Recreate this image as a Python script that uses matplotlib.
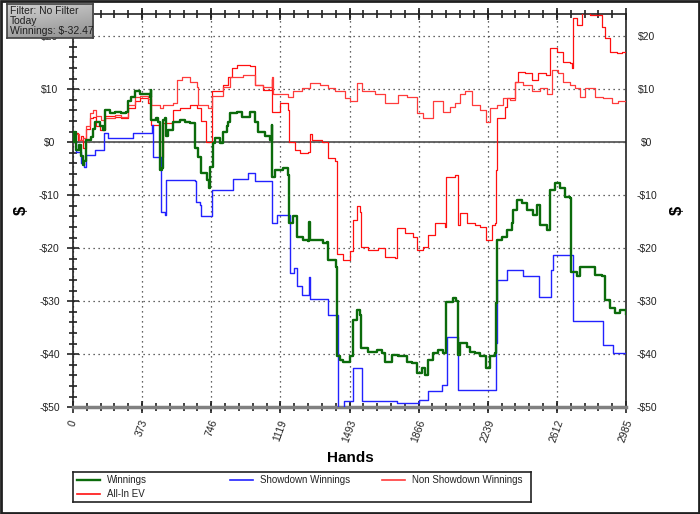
import numpy as np
import matplotlib
matplotlib.use('Agg')
import matplotlib.pyplot as plt
from matplotlib.ticker import MultipleLocator
from matplotlib.lines import Line2D
from matplotlib.patches import Rectangle
from matplotlib.colors import LinearSegmentedColormap

plt.rcParams['font.family'] = ['Liberation Sans', 'DejaVu Sans']

# ---- data (hand number, dollars) ----
win_hands = [0, 5, 18, 30, 45, 54, 62, 72, 99, 108, 117, 144, 162, 171, 198, 225, 261, 288, 297, 315,
             333, 360, 396, 414, 419, 423, 450, 460, 468, 482, 486, 495, 504, 513, 540, 576, 603, 630,
             657, 675, 693, 722, 736, 740, 754, 766, 794, 808, 830, 839, 848, 884, 911, 956, 983, 1001,
             1037, 1064, 1073, 1076, 1090, 1135, 1162, 1167, 1189, 1207, 1243, 1270, 1274, 1279, 1351,
             1369, 1378, 1420, 1423, 1441, 1459, 1495, 1513, 1531, 1549, 1555, 1595, 1640, 1666, 1684,
             1720, 1756, 1801, 1828, 1855, 1882, 1900, 1918, 1945, 1972, 1999, 2013, 2053, 2070, 2076,
             2089, 2125, 2143, 2170, 2197, 2229, 2251, 2278, 2283, 2287, 2314, 2341, 2368, 2377, 2395,
             2422, 2449, 2485, 2505, 2521, 2561, 2575, 2602, 2629, 2656, 2683, 2688, 2719, 2737, 2791,
             2818, 2854, 2872, 2899, 2926, 2953, 2985]
win_vals = [0, 2, -1.4, -0.5, -2.5, -4.3, -3.5, 0.4, 1, 2.5, 3.9, 3, 2.3, 6.1, 5.5, 5.8, 5.5, 5.8, 7.7, 8.6,
            9.6, 9.2, 9.2, 8.6, 9.8, 4.2, 4.5, 3.9, -5.2, -4.9, 4.2, 4.5, 1.1, 2.3, 3.9, 4.2, 3.9, 3.6,
            -1.1, -2.7, -5.8, -7.1, -8.7, -4.6, -0.2, 0.75, -0.2, 2, 3, 3.9, 5.5, 5.8, 4.8, 5.8, 3.9, 2,
            1.1, 0.4, 3.3, -6.5, -5.2, -4.9, -6.2, -15.3, -14, -17.8, -18.4, -18.7, -15, -18.4, -19,
            -18.8, -22.2, -23.5, -40.4, -41.1, -41.4, -40.4, -33.5, -31.6, -32.6, -38.9, -39.5, -39.2,
            -39.8, -41.4, -40.1, -40.4, -41.4, -41.7, -43.6, -42.6, -43.9, -41.1, -39.8, -39.2, -39.8,
            -30.1, -29.4, -30, -40.1, -37.9, -38.6, -39.5, -39.8, -40.4, -42.6, -40.4, -39.8, -30.4,
            -18.4, -17.8, -16.5, -15.3, -12.8, -10.9, -11.5, -12.8, -13.7, -11.8, -15.6, -16.5, -9,
            -7.7, -8.7, -10.3, -10.6, -24.4, -25.3, -23.5, -23.5, -25, -25.3, -29.7, -31.3, -32.3,
            -31.7, -32.47]

sd_hands = [0, 18, 45, 59, 72, 117, 167, 189, 324, 426, 432, 473, 495, 504, 657, 666, 684, 693, 749, 866,
            947, 983, 1076, 1103, 1171, 1194, 1207, 1234, 1274, 1279, 1378, 1430, 1464, 1510, 1558,
            1747, 1870, 1915, 1990, 2017, 2080, 2285, 2290, 2345, 2431, 2516, 2580, 2593, 2697, 2863,
            2917, 2985]
sd_vals = [0, -1.8, -4, -4.6, -2.4, -1.4, 1.7, 0.9, 1.7, 3.3, -2.7, -13.1, -13.7, -7.1, -7.4, -11.2,
           -11.8, -14, -9, -7, -5.8, -7.4, -15.3, -13.7, -24.7, -23.8, -27.2, -28.8, -25.5, -29.6,
           -32.6, -52, -48.9, -42.6, -48.9, -49.2, -48.6, -46.9, -45.7, -36.7, -46.7, -37.9, -26,
           -24.1, -25.3, -29.1, -24.1, -21.3, -33.8, -38.2, -39.7, -39.8]

ns_hands = [0, 10, 30, 54, 72, 90, 108, 126, 153, 171, 225, 261, 297, 333, 360, 405, 423, 468, 486, 540,
            560, 590, 630, 668, 675, 729, 750, 808, 848, 920, 983, 1028, 1073, 1082, 1162, 1189, 1234,
            1279, 1333, 1378, 1414, 1468, 1495, 1531, 1559, 1631, 1685, 1756, 1801, 1855, 1891, 1945,
            1999, 2035, 2062, 2089, 2116, 2152, 2197, 2229, 2251, 2287, 2323, 2359, 2386, 2431, 2476,
            2521, 2561, 2584, 2620, 2647, 2683, 2710, 2737, 2764, 2800, 2818, 2863, 2908, 2944, 2985]
ns_vals = [0, 1.5, 0.5, 0.8, 3, 5.5, 6.1, 5, 4.2, 4.6, 5.2, 4.8, 7, 8.6, 8.8, 8.2, 7, 6.5, 7, 7.4,
           11.8, 12.4, 11.4, 10.5, 7, 6.4, 8.8, 10.5, 12.4, 12.7, 10.8, 10.5, 12.4, 9.2, 8.6, 9.6, 10.2,
           11.1, 10.8, 10.2, 9.6, 8.3, 7.7, 11.1, 9.6, 9.2, 7.4, 8.9, 8.6, 5.5, 4.5, 7.7,
           5.8, 6.7, 7.4, 9.2, 9.6, 7, 6.1, 3.9, 6.4, 7, 8.3, 8, 11.4, 10.8, 9.6,
           10.2, 9.2, 13.6, 13, 11.4, 10.8, 10.2, 8.6, 10.2, 10.2, 8.6, 8.3, 7.4, 7.7, 7.4]

ev_hands = [0, 5, 27, 45, 54, 72, 90, 108, 126, 144, 171, 225, 261, 297, 333, 360, 405, 414, 423, 460,
            468, 486, 540, 576, 630, 668, 690, 716, 736, 750, 808, 839, 857, 884, 956, 983, 1028, 1073,
            1076, 1118, 1162, 1167, 1198, 1225, 1270, 1279, 1290, 1342, 1378, 1414, 1423, 1459, 1495,
            1513, 1531, 1549, 1555, 1595, 1649, 1684, 1738, 1747, 1792, 1837, 1855, 1891, 1918, 1954,
            2008, 2013, 2062, 2076, 2089, 2125, 2170, 2197, 2229, 2260, 2278, 2283, 2287, 2314, 2332,
            2341, 2368, 2386, 2404, 2440, 2476, 2512, 2553, 2575, 2611, 2647, 2683, 2692, 2697, 2719,
            2746, 2791, 2854, 2872, 2899, 2935, 2962, 2985]
ev_vals = [0, 1.7, 0.4, 1.1, -1, 2.5, 4.5, 4.8, 3, 2.3, 5, 4.8, 4.5, 6.5, 7.8, 8.3, 7.5, 8.8, 3.3, 3.3,
           -2.7, 3.6, 6.1, 6.5, 7, 6.5, 4, 0.1, 0.1, 9.6, 10.8, 12.4, 14, 14.6, 14.3, 10.8, 9.8, 12,
           5.8, 7.4, 6.1, 0.1, -1.5, -2.1, -1.8, 1.5, 0.5, 0.1, -3, -3.6, -21, -22.2, -20.6,
           -14.7, -12.1, -13.1, -19.7, -20.3, -20, -21.6, -21.9, -16.2, -17.2, -17.8, -20.3, -19.7, -17.5,
           -15.3, -15.9, -6.5, -6.2, -15.6, -13.4, -15.3, -15.6, -15.9, -18.4, -15.6, -15.3, -5.2, 4.5,
           4.5, 6.7, 8.3, 8.3, 11.4, 13.3, 13, 11.8, 13, 12.7, 17.7, 17.1, 15.2, 14.9, 14, 23.4, 22.1,
           24.3, 24, 21.8, 19.6, 17.1, 16.8, 17.1, 16.8]

x_ticks = [0, 373, 746, 1119, 1493, 1866, 2239, 2612, 2985]
y_ticks = [-50, -40, -30, -20, -10, 0, 10, 20]
y_labels = ['-$50', '-$40', '-$30', '-$20', '-$10', '$0', '$10', '$20']
info_lines = ['Filter: No Filter', 'Today', 'Winnings: $-32.47']

series = [('Winnings', win_hands, win_vals, '#0b6b0b', 1.7),
          ('Showdown Winnings', sd_hands, sd_vals, '#2222ff', 1.0),
          ('Non Showdown Winnings', ns_hands, ns_vals, '#ff3b3b', 0.9),
          ('All-In EV', ev_hands, ev_vals, '#ff1010', 0.9)]

fig = plt.figure(figsize=(7, 5.14), dpi=100)
fig.patches.append(Rectangle((0.001, 0.001), 0.998, 0.998, transform=fig.transFigure,
                             fill=False, edgecolor='#202020', linewidth=2))

ax = fig.add_axes([73 / 700, 1 - 407.3 / 514, 553 / 700, 393.3 / 514])
ax.set_xlim(0, 2985)
ax.set_ylim(-50, 24.2)

ax.grid(True, which='major', linestyle=(0, (1, 3)), color='#333333', linewidth=0.9)
ax.axhline(0, color='#5a5a5a', linewidth=1.3, zorder=2)

# reds first so green/blue sit on top
for name, h, v, c, lw in [series[3], series[2], series[1], series[0]]:
    ax.plot(h, v, drawstyle='steps-post', color=c, linewidth=lw, zorder=3)

ax.set_xticks(x_ticks)
ax.set_xticklabels([str(t) for t in x_ticks], rotation=70, ha='center', fontsize=7.5, color='#222222')
ax.xaxis.set_minor_locator(MultipleLocator(2985 / 40))
ax.set_yticks(y_ticks)
ax.set_yticklabels(y_labels, fontsize=7.5, color='#222222', ha='center')
ax.yaxis.set_minor_locator(MultipleLocator(2))
ax.tick_params(which='both', direction='inout', top=True, right=True, color='#222222', width=1.2)
ax.tick_params(which='major', length=8)
ax.tick_params(which='minor', length=6)
ax.tick_params(axis='x', pad=4)
ax.tick_params(axis='y', pad=13)

# right-hand dollar labels
ax2 = ax.twinx()
ax2.set_ylim(-50, 24.2)
ax2.set_yticks(y_ticks)
ax2.set_yticklabels(y_labels, fontsize=7.5, color='#222222', ha='center')
ax2.tick_params(which='both', length=0, pad=15)
for s in ax2.spines.values():
    s.set_visible(False)

for side in ['left', 'right', 'top']:
    ax.spines[side].set_color('#222222')
    ax.spines[side].set_linewidth(1.2)
ax.spines['bottom'].set_color('#808080')
ax.spines['bottom'].set_linewidth(2.5)

fig.text(350 / 700, 1 - 458 / 514, 'Hands', ha='center', va='center', fontsize=11, fontweight='bold')
fig.text(21 / 700, 1 - 210 / 514, '$', ha='center', va='center', rotation=90, fontsize=12, fontweight='bold')
fig.text(677 / 700, 1 - 210 / 514, '$', ha='center', va='center', rotation=90, fontsize=12, fontweight='bold')

# legend box
lax = fig.add_axes([73 / 700, 1 - 502 / 514, 458 / 700, 30 / 514])
lax.set_xlim(0, 458)
lax.set_ylim(30, 0)
lax.set_xticks([])
lax.set_yticks([])
for s in lax.spines.values():
    s.set_color('#222222')
    s.set_linewidth(1.2)
legend_spots = [(4, 8), (157, 8), (309, 8), (4, 22)]
for (name, h, v, c, lw), (lx, ly) in zip(series, legend_spots):
    lax.add_line(Line2D([lx, lx + 23], [ly, ly], color=c, linewidth=max(lw, 1.2)))
    lax.text(lx + 30, ly, name, ha='left', va='center', fontsize=7, color='#222222')

# filter info box (covers the top-left corner like the original)
bax = fig.add_axes([7 / 700, 1 - 38 / 514, 86 / 700, 34 / 514])
cmap = LinearSegmentedColormap.from_list('box', ['#d2d2d2', '#8e8e8e'])
yy, xx = np.mgrid[0:1:40j, 0:1:80j]
bax.imshow(0.7 * yy + 0.3 * xx, cmap=cmap, aspect='auto', extent=(0, 1, 1, 0))
bax.set_xlim(0, 1)
bax.set_ylim(1, 0)
bax.set_xticks([])
bax.set_yticks([])
for s in bax.spines.values():
    s.set_color('#404040')
    s.set_linewidth(1.2)
for i, line in enumerate(info_lines):
    bax.text(0.03, 0.2 + i * 0.3, line, ha='left', va='center', fontsize=7.5, color='#202020')

fig.savefig('out.png', dpi=100)
